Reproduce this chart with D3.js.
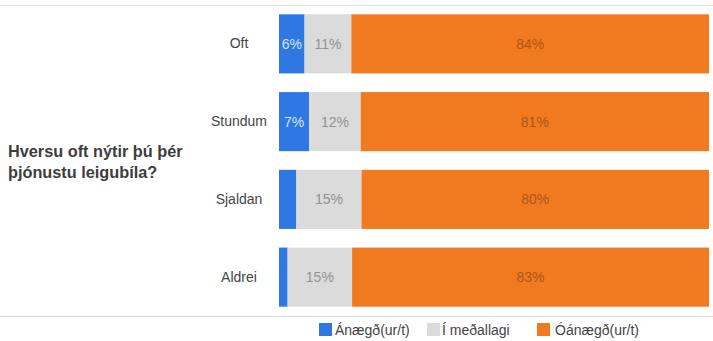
<!DOCTYPE html>
<html><head><meta charset="utf-8">
<script src="https://cdn.jsdelivr.net/npm/d3@7"></script>
<style>body{margin:0;background:#fff}svg{display:block;font-family:Arial,"Liberation Sans",sans-serif}</style>
</head><body>
<svg id="c" width="713" height="341"></svg>
<script>
const categories = ["Oft", "Stundum", "Sjaldan", "Aldrei"];
const seriesNames = ["Ánægð(ur/t)", "Í meðallagi", "Óánægð(ur/t)"];
const satisfied = [6, 7, 4, 2];
const neutral = [11, 12, 15, 15];
const dissatisfied = [84, 81, 80, 83];
const titleLines = ["Hversu oft nýtir þú þér", "þjónustu leigubíla?"];

const colors = ["#2f78e4", "#dbdbdb", "#f07a20"];
const labelColors = ["#d6e4fa", "#929292", "#ad5717"];

const svg = d3.select("#c");
const W = 713;
const plot = {x0: 279, x1: 709, y0: 5, y1: 316};

svg.append("line").attr("x1", 0).attr("x2", W).attr("y1", 5.5).attr("y2", 5.5).attr("stroke", "#e2e2e2");
svg.append("line").attr("x1", 0).attr("x2", W).attr("y1", 316.5).attr("y2", 316.5).attr("stroke", "#d9d9d9");

const x = d3.scaleLinear().domain([0, 1]).range([plot.x0, plot.x1]);
const y = d3.scaleBand().domain(categories).range([plot.y0, plot.y1]).paddingInner(0.24).paddingOuter(0.12);

const rows = categories.map((c, i) => {
  const vals = [satisfied[i], neutral[i], dissatisfied[i]];
  const tot = d3.sum(vals);
  let acc = 0;
  return vals.map((v, k) => { const s = acc / tot; acc += v; return {cat: c, k, v, s, e: acc / tot}; });
});

const g = svg.append("g");
rows.flat().forEach(d => {
  g.append("rect").attr("x", x(d.s)).attr("width", x(d.e) - x(d.s))
    .attr("y", y(d.cat)).attr("height", y.bandwidth()).attr("fill", colors[d.k]);
});
rows.flat().forEach(d => {
  const w = x(d.e) - x(d.s);
  const t = g.append("text").attr("x", (x(d.s) + x(d.e)) / 2).attr("y", y(d.cat) + y.bandwidth() / 2)
    .attr("dy", "0.35em").attr("text-anchor", "middle").attr("font-size", 14)
    .attr("fill", labelColors[d.k]).text(d.v + "%");
  if (t.node().getComputedTextLength() + 2 > w) t.remove();
});

// category axis (labels centred)
const yAxis = svg.append("g").attr("transform", "translate(239,0)")
  .call(d3.axisLeft(y).tickSize(0).tickPadding(0));
yAxis.select(".domain").remove();
yAxis.selectAll("text").attr("font-size", 14).attr("fill", "#444").attr("text-anchor", "middle")
  .attr("font-family", "Arial,'Liberation Sans',sans-serif");

// title
svg.append("g").selectAll("text").data(titleLines).join("text")
  .attr("x", 8).attr("y", (d, i) => 157 + i * 21)
  .attr("font-size", 16.3).attr("font-weight", "bold").attr("fill", "#3d3d3d").text(d => d);

// legend
const legX = [319, 427, 537];
const legTX = [335, 442, 555];
const leg = svg.append("g");
seriesNames.forEach((n, i) => {
  leg.append("rect").attr("x", legX[i]).attr("y", 323).attr("width", 13).attr("height", 13).attr("fill", colors[i]);
  leg.append("text").attr("x", legTX[i]).attr("y", 330).attr("dy", "0.35em")
    .attr("font-size", 14).attr("fill", "#444").text(n);
});
</script>
</body></html>
